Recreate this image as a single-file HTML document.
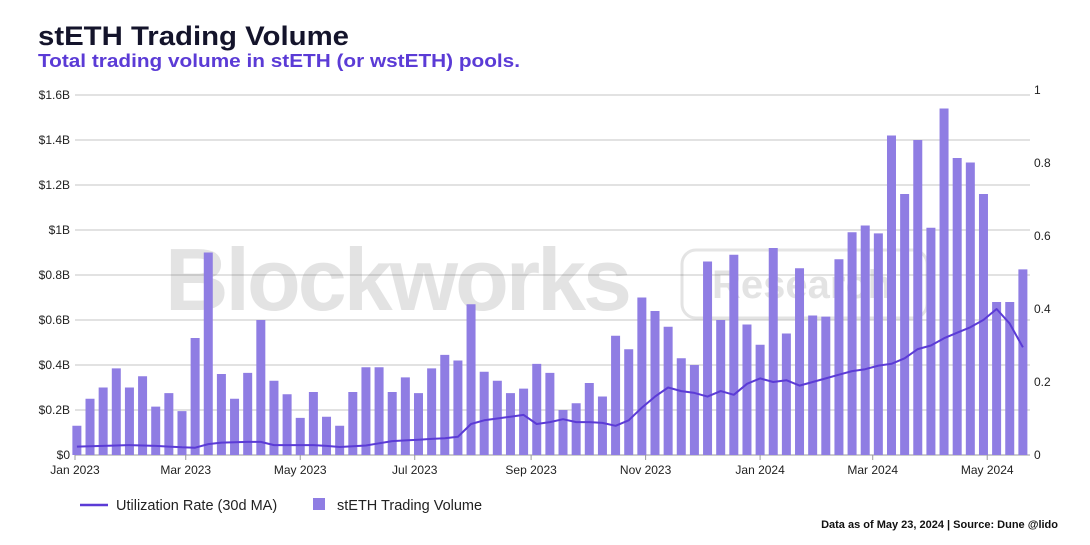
<!DOCTYPE html>
<html><head><meta charset="utf-8"><style>
body{margin:0;background:#fff;font-family:"Liberation Sans",sans-serif;}
#wrap{position:relative;width:1090px;height:545px;overflow:hidden;}
</style></head><body>
<div id="wrap">
<svg id="chart" width="1090" height="545" xmlns="http://www.w3.org/2000/svg">
<text x="38" y="45" font-size="27" font-weight="bold" fill="#14142b" textLength="311" lengthAdjust="spacingAndGlyphs">stETH Trading Volume</text>
<text x="38" y="67" font-size="18" font-weight="bold" fill="#5b3bd6" textLength="482" lengthAdjust="spacingAndGlyphs">Total trading volume in stETH (or wstETH) pools.</text>
<g id="grid"></g>
<g opacity="0.14">
<text x="165" y="310" font-size="88" font-weight="bold" fill="#444" letter-spacing="-3">Blockworks</text>
<rect x="682" y="250" width="245" height="68" rx="14" fill="none" stroke="#444" stroke-width="3"/>
<text x="712" y="298" font-size="40" font-weight="bold" fill="#444">Research</text>
</g>
<g id="bars"></g>
<g id="line"></g>
<g id="axes"></g>
<g>
<line x1="80" y1="505" x2="108" y2="505" stroke="#5b3bd6" stroke-width="2.5"/>
<text x="116" y="510" font-size="14.5" fill="#222">Utilization Rate (30d MA)</text>
<rect x="313" y="498" width="12" height="12" fill="#8f7de3"/>
<text x="337" y="510" font-size="14.5" fill="#222">stETH Trading Volume</text>
</g>
<text x="1058" y="528" font-size="11" font-weight="bold" fill="#111" text-anchor="end">Data as of May 23, 2024 | Source: Dune @lido</text>
</svg>
</div>
<script>
const volumes = [0.13,0.25,0.30,0.385,0.30,0.35,0.215,0.275,0.195,0.52,0.90,0.36,0.25,0.365,0.60,0.33,0.27,0.165,0.28,0.17,0.13,0.28,0.39,0.39,0.28,0.345,0.275,0.385,0.445,0.42,0.67,0.37,0.33,0.275,0.295,0.405,0.365,0.20,0.23,0.32,0.26,0.53,0.47,0.70,0.64,0.57,0.43,0.40,0.86,0.60,0.89,0.58,0.49,0.92,0.54,0.83,0.62,0.615,0.87,0.99,1.02,0.985,1.42,1.16,1.40,1.01,1.54,1.32,1.30,1.16,0.68,0.68,0.825];
const utilization = [.023,.024,.025,.026,.027,.026,.025,.023,.021,.020,.030,.034,.035,.036,.036,.027,.027,.027,.027,.025,.022,.024,.026,.032,.038,.040,.042,.044,.046,.050,.085,.095,.100,.105,.110,.085,.090,.098,.090,.090,.088,.080,.095,.130,.160,.185,.175,.170,.160,.175,.165,.195,.210,.200,.205,.190,.200,.210,.220,.230,.235,.245,.250,.265,.290,.300,.320,.335,.350,.370,.400,.360,.295];
const leftTicks = [0,0.2,0.4,0.6,0.8,1,1.2,1.4,1.6];
const leftTickLabels = ["$0","$0.2B","$0.4B","$0.6B","$0.8B","$1B","$1.2B","$1.4B","$1.6B"];
const rightTicks = [0,0.2,0.4,0.6,0.8,1];
const rightTickLabels = ["0","0.2","0.4","0.6","0.8","1"];
const xTickDates = ["2023-01-01","2023-03-01","2023-05-01","2023-07-01","2023-09-01","2023-11-01","2024-01-01","2024-03-01","2024-05-01"];
const xTickLabels = ["Jan 2023","Mar 2023","May 2023","Jul 2023","Sep 2023","Nov 2023","Jan 2024","Mar 2024","May 2024"];
const firstWeek = "2023-01-02";

const NS="http://www.w3.org/2000/svg";
const X0=75, Y0=455, pxPerDay=1.877, X1=1030;
const t0=Date.UTC(2023,0,1);
function xDate(s){const d=new Date(s+"T00:00:00Z");return X0+(d-t0)/86400000*pxPerDay;}
function xWeek(i){return xDate(firstWeek)+i*7*pxPerDay;}
function yL(v){return Y0-v*225;}
function yR(v){return Y0-v*365;}
function mk(tag,attrs,parent){const e=document.createElementNS(NS,tag);for(const k in attrs)e.setAttribute(k,attrs[k]);parent.appendChild(e);return e;}
const grid=document.getElementById('grid'),axes=document.getElementById('axes'),bars=document.getElementById('bars'),line=document.getElementById('line');
leftTicks.forEach((v,i)=>{
  const g=mk('line',{x1:X0,x2:X1,y1:yL(v),y2:yL(v),stroke:i==0?'#999':'#c4c4c4','stroke-width':1},grid);
  
  
  const t=mk('text',{x:70,y:yL(v)+4,'font-size':12,fill:'#222','text-anchor':'end'},axes);
  t.textContent=leftTickLabels[i];
  
  
});
rightTicks.forEach((v,i)=>{
  const t=mk('text',{x:1034,y:yR(v)+4,'font-size':12,fill:'#222'},axes);
  t.textContent=rightTickLabels[i];
  
  
});
xTickDates.forEach((d,i)=>{
  const x=xDate(d);
  const tk=mk('line',{x1:x,x2:x,y1:Y0,y2:Y0+5,stroke:'#999'},axes);
  
  
  const t=mk('text',{x:x,y:Y0+19,'font-size':12,fill:'#222','text-anchor':'middle'},axes);
  t.textContent=xTickLabels[i];
  
  
});
volumes.forEach((v,i)=>{
  const x=xWeek(i);
  const r=mk('rect',{x:x-4.5,y:yL(v),width:9,height:Y0-yL(v),fill:'#8f7de3'},bars);
  
  
});
const pts=utilization.map((u,i)=>xWeek(i).toFixed(1)+','+yR(u).toFixed(1)).join(' ');
const pl=mk('polyline',{points:pts,fill:'none',stroke:'#5b3bd6','stroke-width':2,'stroke-linejoin':'round'},line);


</script>
</body></html>
